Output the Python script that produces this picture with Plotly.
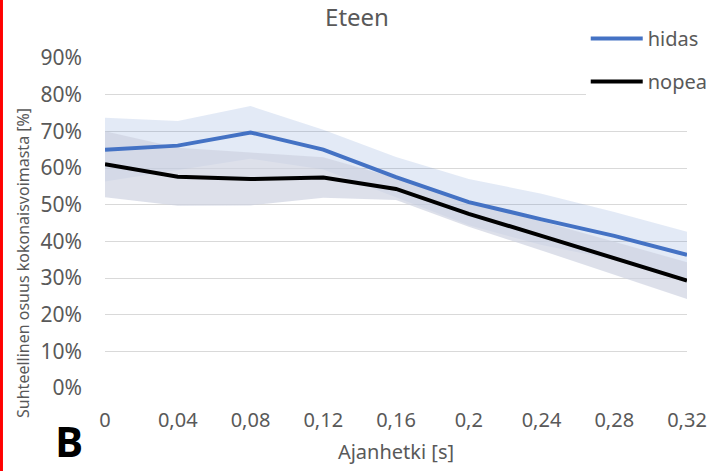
import plotly.graph_objects as go

# Data
time_s = [0, 0.04, 0.08, 0.12, 0.16, 0.2, 0.24, 0.28, 0.32]
tick_text = ["0", "0,04", "0,08", "0,12", "0,16", "0,2", "0,24", "0,28", "0,32"]
hidas_mean = [0.650, 0.661, 0.697, 0.650, 0.575, 0.507, 0.460, 0.415, 0.363]
hidas_sd = [0.087, 0.067, 0.072, 0.054, 0.055, 0.063, 0.070, 0.065, 0.063]
nopea_mean = [0.610, 0.576, 0.570, 0.574, 0.543, 0.475, 0.415, 0.355, 0.293]
nopea_sd = [0.090, 0.079, 0.072, 0.055, 0.030, 0.035, 0.040, 0.045, 0.050]
y_ticks = [0, 0.1, 0.2, 0.3, 0.4, 0.5, 0.6, 0.7, 0.8, 0.9]
y_tick_text = ["0%", "10%", "20%", "30%", "40%", "50%", "60%", "70%", "80%", "90%"]

hidas_up = [m + s for m, s in zip(hidas_mean, hidas_sd)]
hidas_lo = [m - s for m, s in zip(hidas_mean, hidas_sd)]
nopea_up = [m + s for m, s in zip(nopea_mean, nopea_sd)]
nopea_lo = [m - s for m, s in zip(nopea_mean, nopea_sd)]

FONT = "Noto Sans"
GREY = "#595959"

fig = go.Figure()
# hidas band
fig.add_trace(go.Scatter(x=time_s, y=hidas_up, mode="lines", line=dict(width=0),
                         showlegend=False, hoverinfo="skip"))
fig.add_trace(go.Scatter(x=time_s, y=hidas_lo, mode="lines", line=dict(width=0),
                         fill="tonexty", fillcolor="rgba(68,114,196,0.15)",
                         showlegend=False, hoverinfo="skip"))
# nopea band
fig.add_trace(go.Scatter(x=time_s, y=nopea_up, mode="lines", line=dict(width=0),
                         showlegend=False, hoverinfo="skip"))
fig.add_trace(go.Scatter(x=time_s, y=nopea_lo, mode="lines", line=dict(width=0),
                         fill="tonexty", fillcolor="rgba(205,209,224,0.68)",
                         showlegend=False, hoverinfo="skip"))
# lines
fig.add_trace(go.Scatter(x=time_s, y=hidas_mean, mode="lines", name="hidas",
                         line=dict(color="#4472C4", width=4), legendgroup="a"))
fig.add_trace(go.Scatter(x=time_s, y=nopea_mean, mode="lines", name="nopea",
                         line=dict(color="#000000", width=4), legendgroup="b"))

fig.update_layout(
    width=714, height=471,
    margin=dict(l=105, r=27, t=58, b=83, autoexpand=False),
    paper_bgcolor="white", plot_bgcolor="white",
    font=dict(family=FONT, color=GREY, size=18),
    title=dict(text="Eteen", x=0.5, xref="container", xanchor="center",
               y=0.962, yref="container", yanchor="middle",
               font=dict(size=24, color=GREY, family=FONT)),
    showlegend=True,
    legend=dict(x=0.826, xanchor="left", y=1.118, yanchor="top", xref="paper", yref="paper",
                bgcolor="white", font=dict(size=20, color=GREY, family=FONT),
                traceorder="grouped", tracegroupgap=14, itemwidth=52),
    xaxis=dict(range=[0, 0.32], tickvals=time_s, ticktext=tick_text,
               showgrid=False, zeroline=False, showline=False, ticks="",
               tickfont=dict(size=20, color=GREY), ticklabelstandoff=18,
               title=dict(text="Ajanhetki [s]", font=dict(size=20, color=GREY), standoff=12)),
    yaxis=dict(range=[0, 0.9], tickvals=y_ticks, ticktext=y_tick_text,
               showgrid=True, gridcolor="#d9d9d9", gridwidth=1, zeroline=False,
               showline=False, ticks="", tickfont=dict(size=21, color=GREY),
               ticklabelstandoff=22),
)
fig.add_annotation(text="Suhteellinen osuus kokonaisvoimasta [%]", textangle=-90,
                   xref="paper", yref="paper", x=-0.142, y=0.38, xanchor="center", yanchor="middle",
                   showarrow=False, font=dict(size=16, color=GREY, family=FONT))
fig.add_annotation(text="<b>B</b>", xref="paper", yref="paper", x=-0.0893, y=-0.158,
                   xanchor="left", yanchor="middle", showarrow=False,
                   font=dict(size=42, color="black", family="Open Sans"))
fig.add_shape(type="rect", xref="paper", yref="paper", x0=-0.1804, x1=-0.1753, y0=-0.2515, y1=1.1758,
              fillcolor="red", line=dict(width=0), layer="above")

fig.write_html("out.html")
